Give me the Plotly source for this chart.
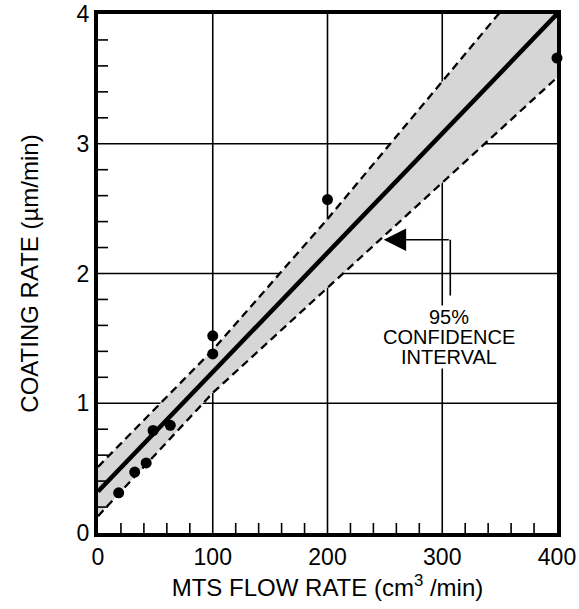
import plotly.graph_objects as go

# Data
pts_x = [18, 32, 42, 48, 63, 100, 100, 200, 400]
pts_y = [0.31, 0.47, 0.54, 0.79, 0.83, 1.38, 1.52, 2.57, 3.66]

fit_x = [0, 400]
fit_y = [0.32, 4.0]

band_x = [0, 100, 200, 300, 400]
band_upper = [0.51, 1.41, 2.42, 3.47, 4.54]
band_lower = [0.13, 1.08, 1.89, 2.70, 3.51]

x_tickvals = [0, 100, 200, 300, 400]
y_tickvals = [0, 1, 2, 3, 4]
x_minor = [v for v in range(20, 400, 20) if v % 100 != 0]
y_minor = [round(i * 0.2, 1) for i in range(1, 20) if i % 5 != 0]
x_grid = [100, 200, 300]
y_grid = [1, 2, 3]

note_lines = ["95%", "CONFIDENCE", "INTERVAL"]
note_y = [1.665, 1.51, 1.356]

FONT = "Liberation Sans, Arial, Helvetica, sans-serif"

fig = go.Figure()
fig.add_trace(go.Scatter(x=band_x, y=band_lower, mode="lines",
                         line=dict(color="black", width=2.3, dash="8px,5px"),
                         showlegend=False, hoverinfo="skip"))
fig.add_trace(go.Scatter(x=band_x, y=band_upper, mode="lines", fill="tonexty",
                         fillcolor="#d6d6d6",
                         line=dict(color="black", width=2.3, dash="8px,5px"),
                         showlegend=False, hoverinfo="skip"))
fig.add_trace(go.Scatter(x=fit_x, y=fit_y, mode="lines",
                         line=dict(color="black", width=4.5),
                         showlegend=False))
fig.add_trace(go.Scatter(x=pts_x, y=pts_y, mode="markers",
                         marker=dict(color="black", size=11),
                         showlegend=False, cliponaxis=False))

# grid lines (drawn below the data)
for gx in x_grid:
    fig.add_shape(type="line", xref="x", yref="paper", x0=gx, x1=gx, y0=0, y1=1,
                  line=dict(color="black", width=1.6), layer="below")
for gy in y_grid:
    fig.add_shape(type="line", xref="paper", yref="y", x0=0, x1=1, y0=gy, y1=gy,
                  line=dict(color="black", width=1.6), layer="below")

# minor ticks, inside, along the bottom and left edges
for mx in x_minor:
    fig.add_shape(type="line", xref="x", yref="paper", ysizemode="pixel", yanchor=0,
                  x0=mx, x1=mx, y0=0, y1=10, line=dict(color="black", width=1.6),
                  layer="above")
for my in y_minor:
    fig.add_shape(type="line", xref="paper", yref="y", xsizemode="pixel", xanchor=0,
                  x0=0, x1=10, y0=my, y1=my, line=dict(color="black", width=1.6),
                  layer="above")

# annotation: arrow + connector
tip_x, tip_y = 249, 2.26
elbow_x, bottom_y = 307, 1.83
fig.add_annotation(x=tip_x, y=tip_y, ax=elbow_x, ay=tip_y, axref="x", ayref="y",
                   xref="x", yref="y", showarrow=True, arrowhead=2, arrowsize=2.8,
                   arrowwidth=1.6, arrowcolor="black", text="")
fig.add_shape(type="line", x0=elbow_x, y0=tip_y, x1=elbow_x, y1=bottom_y,
              xref="x", yref="y", line=dict(color="black", width=1.6))
for txt, yy in zip(note_lines, note_y):
    fig.add_annotation(x=306, y=yy, xref="x", yref="y", showarrow=False,
                       text=txt, font=dict(family=FONT, size=20, color="black"),
                       bgcolor="white", borderpad=0)

axis_common = dict(
    showline=True, linecolor="black", linewidth=4, mirror=True,
    showgrid=False, zeroline=False, ticks="",
    tickfont=dict(family=FONT, size=23, color="black"),
    automargin=False,
)

fig.update_xaxes(range=[0, 400], tickmode="array", tickvals=x_tickvals,
                 ticktext=[str(v) for v in x_tickvals],
                 title=dict(text="MTS FLOW RATE (cm<sup>3</sup> /min)",
                            font=dict(family=FONT, size=24, color="black"), standoff=12),
                 **axis_common)
fig.update_yaxes(range=[0, 4], tickmode="array", tickvals=y_tickvals,
                 ticktext=[str(v) for v in y_tickvals],
                 title=dict(text="COATING RATE (µm/min)",
                            font=dict(family=FONT, size=24, color="black"), standoff=32),
                 **axis_common)

fig.update_layout(width=579, height=609, margin=dict(l=98, r=22, t=14, b=76),
                  plot_bgcolor="white", paper_bgcolor="white",
                  font=dict(family=FONT, color="black"))

fig.write_html("out.html", config={"displayModeBar": False},
               post_script="document.body.style.margin='0';document.body.style.overflow='hidden';")
